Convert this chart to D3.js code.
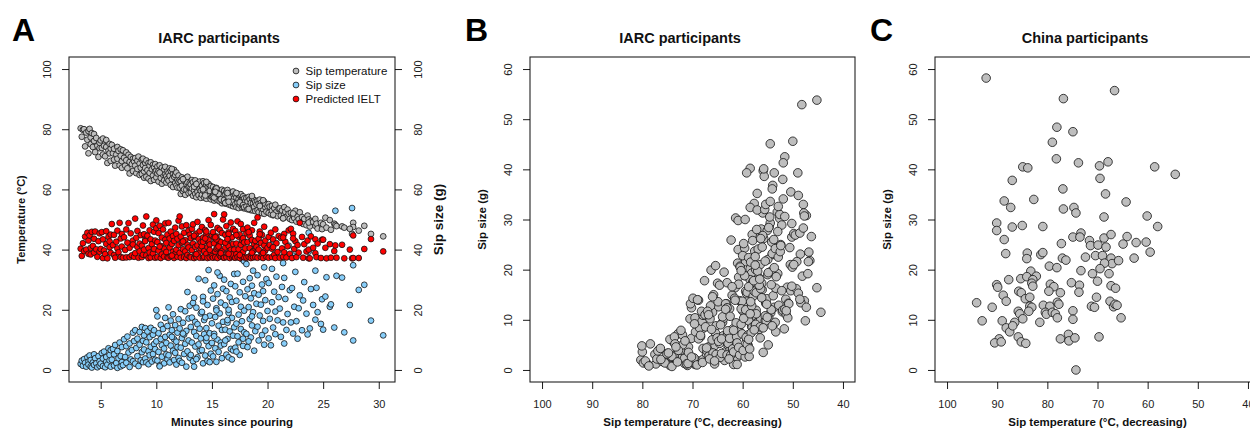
<!DOCTYPE html>
<html>
<head>
<meta charset="utf-8">
<script src="https://cdnjs.cloudflare.com/ajax/libs/d3/7.8.5/d3.min.js"></script>
<style>
body { margin: 0; background: #fff; }
svg { display: block; font-family: "Liberation Sans", Arial, Helvetica, sans-serif; }
</style>
</head>
<body>
<svg></svg>
<script>
// IARC participants: one entry per sip (minutes since pouring, sip temperature, sip size, predicted IELT)
var iarcMinutes = [
    3.2, 3.3, 3.4, 3.5, 3.6, 3.7, 3.8, 3.9, 3.9,
    4.0, 4.1, 4.1, 4.2, 4.3, 4.4, 4.4, 4.5, 4.6, 4.7, 4.8, 4.9, 4.9,
    5.0, 5.1, 5.2, 5.2, 5.3, 5.4, 5.5, 5.5, 5.6, 5.7, 5.8, 5.8, 5.9, 5.9,
    6.0, 6.1, 6.2, 6.2, 6.3, 6.4, 6.5, 6.5, 6.6, 6.7, 6.8, 6.8, 6.9, 6.9,
    7.0, 7.1, 7.2, 7.3, 7.3, 7.4, 7.5, 7.6, 7.6, 7.7, 7.8, 7.9, 7.9, 8.0,
    8.1, 8.1, 8.2, 8.3, 8.3, 8.4, 8.5, 8.5, 8.6, 8.7, 8.7, 8.8, 8.8, 8.9, 8.9, 9.0,
    9.0, 9.1, 9.1, 9.2, 9.3, 9.3, 9.4, 9.4, 9.5, 9.5, 9.6, 9.7, 9.7, 9.8, 9.8, 9.9, 9.9, 10.0,
    10.0, 10.1, 10.1, 10.2, 10.2, 10.3, 10.4, 10.4, 10.5, 10.5, 10.6, 10.7, 10.7, 10.8, 10.8, 10.9, 10.9, 11.0, 11.0, 10.3,
    11.1, 11.1, 11.2, 11.2, 11.3, 11.3, 11.4, 11.5, 11.5, 11.6, 11.6, 11.7, 11.7, 11.8, 11.8, 11.9, 11.9, 12.0, 12.0, 11.4,
    12.1, 12.1, 12.2, 12.2, 12.3, 12.3, 12.4, 12.5, 12.5, 12.6, 12.6, 12.7, 12.7, 12.8, 12.8, 12.9, 12.9, 13.0, 13.0, 12.4,
    13.1, 13.1, 13.2, 13.2, 13.3, 13.3, 13.4, 13.4, 13.5, 13.5, 13.6, 13.6, 13.7, 13.7, 13.8, 13.8, 13.9, 13.9, 14.0, 14.0, 13.4, 13.6,
    14.1, 14.1, 14.2, 14.2, 14.3, 14.3, 14.4, 14.4, 14.5, 14.5, 14.6, 14.6, 14.7, 14.7, 14.8, 14.8, 14.9, 14.9, 15.0, 15.0, 14.2, 14.5, 14.8, 14.4,
    15.1, 15.1, 15.2, 15.2, 15.3, 15.3, 15.4, 15.4, 15.5, 15.5, 15.6, 15.6, 15.7, 15.7, 15.8, 15.8, 15.9, 15.9, 16.0, 16.0, 15.2, 15.5, 15.8, 15.4, 15.6, 15.3,
    16.1, 16.1, 16.2, 16.2, 16.3, 16.3, 16.4, 16.4, 16.5, 16.5, 16.6, 16.6, 16.7, 16.7, 16.8, 16.8, 16.9, 16.9, 17.0, 17.0, 16.2, 16.5, 16.8, 16.4, 16.5,
    17.1, 17.1, 17.2, 17.2, 17.3, 17.3, 17.4, 17.4, 17.5, 17.5, 17.6, 17.6, 17.7, 17.7, 17.8, 17.8, 17.9, 17.9, 18.0, 17.2, 17.5, 17.8, 17.9,
    18.1, 18.1, 18.2, 18.2, 18.3, 18.4, 18.4, 18.5, 18.5, 18.6, 18.6, 18.7, 18.7, 18.8, 18.8, 18.9, 18.9, 19.0, 18.3, 18.6,
    19.1, 19.1, 19.2, 19.2, 19.3, 19.4, 19.4, 19.5, 19.5, 19.6, 19.7, 19.7, 19.8, 19.8, 19.9, 20.0, 19.3, 19.6,
    20.1, 20.1, 20.2, 20.3, 20.4, 20.4, 20.5, 20.6, 20.7, 20.7, 20.8, 20.9, 21.0, 20.5,
    21.1, 21.2, 21.3, 21.4, 21.5, 21.5, 21.6, 21.7, 21.8, 21.9, 22.0, 21.4,
    22.1, 22.2, 22.3, 22.4, 22.5, 22.6, 22.7, 22.8, 22.9, 22.3,
    23.1, 23.2, 23.3, 23.5, 23.6, 23.7, 23.8, 23.9, 23.7,
    24.1, 24.3, 24.3, 24.4, 24.5, 24.8, 24.9,
    25.0, 25.2, 25.3, 25.6, 25.7, 26.0,
    26.1, 26.2, 26.7, 26.9,
    27.6, 27.7, 27.7, 27.4,
    28.7, 29.3, 30.4, 28.2
];
var iarcTemp = [
    80.3, 77.5, 79.8, 80.0, 74.3, 78.9, 76.5, 72.0, 79.4,
    80.1, 77.3, 75.0, 78.7, 74.1, 78.4, 76.1, 72.4, 77.1, 74.5, 70.8, 73.7, 75.5,
    76.3, 73.8, 71.6, 76.9, 74.5, 71.0, 74.1, 76.4, 68.8, 72.9, 75.1, 72.0, 69.5, 73.6,
    74.8, 72.0, 69.9, 73.5, 67.9, 71.6, 74.1, 70.2, 72.8, 68.0, 71.2, 73.3, 69.4, 67.2,
    73.0, 70.5, 67.9, 72.3, 69.7, 67.0, 71.5, 69.1, 65.3, 70.8, 68.4, 70.2, 66.1, 69.3,
    70.4, 67.9, 65.4, 69.5, 66.8, 70.9, 64.8, 68.6, 67.2, 69.9, 65.1, 68.1, 70.2, 66.0, 63.9, 68.8,
    67.1, 69.6, 64.2, 66.4, 68.8, 63.6, 67.9, 65.5, 69.0, 62.8, 66.7, 68.2, 64.6, 67.4, 63.2, 65.9, 68.4, 66.3,
    64.0, 67.6, 65.3, 62.6, 66.1, 68.0, 63.8, 65.8, 67.2, 61.9, 64.9, 66.6, 63.0, 65.0, 67.5, 62.3, 64.4, 66.0, 63.5, 65.6,
    65.4, 62.9, 67.0, 64.5, 61.5, 66.2, 63.4, 65.1, 60.8, 64.2, 66.5, 62.1, 64.8, 61.3, 65.6, 63.1, 60.6, 64.6, 62.5, 66.8,
    63.1, 60.6, 62.7, 58.5, 64.0, 61.2, 59.4, 62.9, 60.0, 63.7, 58.2, 61.8, 59.9, 62.3, 64.2, 60.8, 58.8, 62.0, 61.0, 63.4,
    61.6, 59.0, 63.1, 60.3, 57.9, 62.4, 59.6, 61.1, 58.5, 63.0, 60.5, 57.4, 62.0, 59.2, 61.4, 58.1, 60.1, 62.6, 59.5, 57.2, 60.9, 61.8,
    61.2, 58.2, 62.7, 59.6, 57.3, 62.1, 58.9, 60.9, 56.9, 61.5, 59.4, 60.6, 57.7, 61.8, 58.5, 60.3, 56.7, 61.1, 59.1, 57.5, 60.0, 62.5, 59.5, 58.0,
    60.8, 57.6, 59.4, 56.3, 60.1, 57.0, 58.7, 60.5, 56.4, 59.8, 57.9, 59.2, 56.0, 59.6, 57.4, 58.8, 55.4, 59.9, 58.1, 56.1, 57.3, 58.5, 56.7, 60.3, 58.5, 59.2,
    59.5, 56.5, 58.4, 55.3, 59.1, 55.8, 57.7, 59.8, 55.0, 58.6, 56.9, 58.2, 54.7, 58.9, 56.2, 57.5, 54.4, 59.3, 57.1, 55.2, 55.5, 57.4, 55.9, 58.8, 55.9,
    58.3, 55.1, 57.3, 54.1, 58.5, 55.6, 56.8, 53.8, 58.0, 54.9, 56.5, 58.4, 54.0, 56.4, 57.7, 54.5, 57.0, 53.7, 56.1, 58.8, 55.7, 54.8, 54.1,
    57.1, 54.3, 56.0, 53.4, 57.5, 54.6, 56.7, 53.1, 55.5, 57.2, 53.9, 55.4, 53.0, 56.5, 54.2, 55.8, 52.8, 55.0, 53.5, 57.8,
    56.2, 53.1, 55.3, 52.4, 56.6, 53.7, 55.5, 52.1, 54.8, 53.4, 55.9, 51.9, 54.1, 55.2, 52.6, 54.4, 54.5, 56.4,
    55.1, 52.2, 54.3, 51.7, 54.5, 52.9, 51.4, 53.8, 52.0, 54.9, 52.6, 51.1, 53.5, 51.6,
    53.7, 51.3, 53.0, 50.4, 54.1, 51.6, 52.5, 50.9, 53.3, 51.9, 50.2, 50.4,
    52.2, 49.8, 51.6, 50.5, 52.9, 49.3, 51.0, 50.1, 52.4, 52.0,
    50.8, 48.5, 50.2, 48.1, 51.3, 50.0, 47.7, 49.5, 49.0,
    49.2, 47.9, 50.2, 48.6, 47.0, 48.9, 46.8,
    48.4, 50.6, 47.3, 49.8, 46.6, 48.6,
    48.2, 47.8, 47.7, 47.3,
    45.2, 48.9, 47.5, 46.9,
    47.9, 45.2, 44.4, 46.3
];
var iarcSip = [
    2.0, 3.1, 1.4, 3.6, 2.4, 1.1, 4.2, 2.8, 1.8,
    4.8, 1.2, 3.3, 0.8, 2.5, 5.2, 1.7, 3.9, 2.2, 0.9, 4.6, 2.9, 1.4,
    2.1, 5.6, 1.3, 3.8, 6.1, 0.9, 2.7, 4.3, 1.8, 7.2, 3.2, 5.0, 1.1, 6.6,
    3.4, 7.0, 1.5, 5.2, 8.3, 2.3, 0.7, 6.3, 3.9, 9.1, 1.2, 4.6, 7.6, 2.6,
    1.6, 10.2, 4.3, 7.9, 2.4, 11.1, 5.8, 1.0, 8.8, 3.5, 6.6, 12.4, 2.9, 9.6,
    13.2, 2.1, 7.3, 10.4, 4.6, 1.3, 12.6, 8.4, 3.2, 14.3, 5.9, 9.7, 2.6, 11.5, 6.8, 13.9,
    3.8, 9.2, 2.5, 12.8, 6.2, 1.9, 10.9, 4.9, 14.0, 7.7, 2.8, 11.7, 5.3, 8.6, 13.2, 3.4, 6.9, 19.9,
    9.5, 17.8, 3.1, 12.2, 6.0, 1.5, 10.3, 15.0, 4.4, 8.2, 13.6, 2.2, 7.1, 17.3, 11.0, 5.2, 9.0, 14.6, 3.6, 1.2,
    20.8, 4.9, 11.7, 2.5, 16.4, 8.1, 13.2, 6.4, 18.5, 3.3, 10.2, 14.9, 5.7, 9.4, 1.8, 12.4, 7.6, 16.9, 4.0, 11.0,
    3.0, 13.8, 7.4, 20.2, 10.6, 2.4, 15.7, 5.3, 11.8, 19.5, 8.7, 1.1, 13.0, 25.9, 6.2, 17.1, 9.8, 4.1, 21.3, 12.1,
    14.3, 5.0, 17.4, 9.1, 22.3, 2.9, 12.6, 1.1, 16.0, 7.8, 20.7, 11.3, 4.2, 15.2, 30.3, 8.5, 13.7, 6.3, 18.8, 10.5, 24.0, 3.6,
    6.6, 19.3, 2.2, 24.3, 11.9, 16.6, 4.8, 29.8, 9.6, 13.9, 21.6, 3.0, 33.2, 7.9, 18.0, 12.2, 26.4, 5.4, 15.5, 9.0, 22.8, 10.7, 2.6, 17.5,
    4.5, 23.7, 12.0, 28.1, 7.2, 17.6, 2.7, 20.5, 10.1, 25.2, 14.7, 6.0, 31.3, 18.8, 9.1, 22.4, 13.3, 3.9, 27.0, 16.0, 11.2, 32.4, 8.1, 19.8, 40.2, 39.3,
    30.0, 8.6, 21.5, 13.4, 5.1, 26.2, 15.7, 10.3, 19.0, 4.2, 24.1, 12.8, 28.6, 7.0, 17.3, 22.6, 11.4, 6.5, 31.9, 14.2, 9.8, 20.0, 3.5, 16.6, 39.7,
    7.4, 27.8, 15.4, 23.0, 11.2, 32.0, 18.4, 9.2, 25.8, 5.0, 21.0, 13.6, 36.8, 16.2, 8.0, 29.3, 19.7, 12.5, 24.5, 6.1, 38.6, 10.4, 36.1,
    35.2, 12.0, 26.8, 7.6, 20.9, 30.5, 16.9, 23.8, 10.8, 28.0, 14.8, 33.0, 19.2, 6.4, 25.5, 40.1, 12.9, 22.0, 9.5, 17.8,
    14.4, 31.5, 9.8, 25.0, 18.1, 39.3, 21.7, 11.6, 28.4, 16.3, 8.4, 34.1, 23.2, 13.1, 30.2, 19.6, 45.1, 26.2,
    10.5, 28.9, 17.0, 8.2, 33.6, 22.5, 14.1, 26.0, 11.9, 19.4, 31.0, 16.5, 24.2, 42.5,
    20.4, 11.0, 27.6, 15.8, 8.8, 30.6, 23.6, 13.3, 18.6, 41.3, 26.5, 35.5,
    15.8, 27.2, 12.1, 21.0, 32.6, 16.2, 10.4, 20.5, 24.8, 38.0,
    13.2, 23.1, 29.2, 18.7, 11.8, 45.6, 13.8, 26.9, 39.3,
    21.6, 33.0, 16.7, 27.3, 19.2, 15.3, 23.5,
    13.4, 24.4, 30.8, 21.0, 21.8, 14.1,
    52.9, 31.3, 30.7, 12.5,
    53.8, 34.8, 9.8, 21.6,
    28.3, 16.4, 11.5, 26.6
];
var iarcIelt = [
    40.3, 37.9, 42.1, 39.5, 44.3, 40.0, 45.6, 38.6, 43.0,
    44.7, 40.6, 38.4, 45.9, 41.2, 39.0, 43.6, 46.0, 40.1, 37.6, 42.8, 45.4, 39.3,
    40.2, 45.8, 37.2, 43.4, 39.7, 38.5, 46.1, 41.9, 37.1, 44.2, 40.8, 42.7, 38.9, 45.0,
    48.5, 41.5, 38.2, 44.9, 37.3, 42.6, 46.3, 40.4, 39.1, 48.9, 43.7, 37.5, 41.0, 45.2,
    37.3, 44.1, 39.9, 46.7, 37.4, 42.3, 48.8, 40.6, 37.5, 45.4, 38.1, 43.0, 41.7, 37.6,
    50.3, 38.8, 43.9, 40.9, 46.2, 37.3, 42.0, 39.4, 44.8, 37.5, 41.3, 48.0, 38.3, 45.1, 40.0, 43.2,
    42.8, 38.1, 51.0, 44.6, 37.2, 40.5, 46.4, 39.0, 43.4, 37.4, 41.8, 48.3, 38.7, 45.9, 40.2, 37.3, 43.0, 47.1,
    49.7, 37.5, 42.5, 45.5, 39.6, 47.9, 37.2, 41.2, 44.0, 38.4, 46.7, 40.3, 37.7, 43.3, 48.7, 39.2, 42.2, 37.4, 45.0, 41.0,
    48.9, 37.3, 43.7, 40.7, 46.0, 37.8, 41.9, 44.5, 39.3, 37.2, 42.9, 47.3, 38.6, 45.2, 40.0, 37.6, 43.6, 41.5, 49.6, 38.0,
    51.0, 38.9, 44.3, 37.3, 42.3, 47.7, 40.1, 37.5, 45.6, 39.4, 43.1, 37.2, 48.1, 41.6, 38.2, 46.3, 40.7, 44.9, 37.6, 42.7,
    43.8, 37.4, 46.9, 39.8, 42.0, 48.4, 37.2, 44.2, 40.9, 38.3, 45.3, 37.5, 41.4, 49.2, 43.5, 39.0, 37.3, 46.1, 42.4, 40.4, 44.6, 38.5,
    41.1, 47.5, 37.3, 44.0, 39.5, 37.6, 42.8, 46.5, 38.6, 45.1, 37.2, 40.8, 49.8, 43.2, 37.4, 41.7, 48.2, 38.9, 44.7, 37.8, 42.6, 46.0, 39.9, 43.7,
    37.3, 45.8, 42.1, 51.8, 39.3, 37.5, 44.4, 40.2, 47.2, 37.2, 43.0, 41.3, 38.1, 46.6, 37.6, 42.5, 45.5, 39.6, 37.4, 50.0, 44.0, 40.6, 38.8, 43.4, 41.0, 44.1,
    51.7, 37.3, 44.9, 40.7, 47.8, 37.5, 42.9, 38.7, 45.7, 41.2, 37.2, 43.9, 49.0, 39.9, 37.6, 44.1, 41.9, 46.9, 37.4, 40.0, 42.3, 45.2, 38.4, 43.5, 38.6,
    37.3, 46.2, 42.0, 38.5, 49.4, 37.5, 44.3, 40.1, 37.2, 45.0, 41.6, 48.5, 37.7, 43.1, 39.2, 46.8, 37.4, 42.7, 40.4, 44.8, 38.2, 43.8, 42.4,
    45.4, 37.3, 42.5, 47.3, 37.6, 40.5, 44.6, 38.0, 37.2, 43.2, 46.4, 39.5, 37.4, 41.8, 48.9, 42.9, 37.5, 40.9, 45.8, 39.0,
    50.7, 37.3, 43.6, 40.0, 46.0, 37.5, 42.2, 44.9, 38.4, 37.2, 41.4, 47.6, 39.7, 43.0, 37.6, 40.6, 45.1, 38.9,
    44.2, 37.3, 41.5, 45.6, 37.5, 40.3, 43.4, 38.3, 46.7, 37.2, 42.1, 39.2, 44.5, 40.8,
    37.3, 43.9, 40.4, 37.6, 45.2, 39.1, 42.6, 37.4, 41.1, 46.4, 38.6, 44.0,
    46.9, 37.2, 45.3, 40.2, 42.8, 37.5, 41.5, 39.0, 48.9, 43.7,
    44.2, 37.3, 41.8, 39.4, 43.0, 37.1, 37.1, 44.4, 40.0,
    40.6, 43.4, 38.8, 37.5, 42.0, 37.2, 43.3,
    43.3, 40.6, 37.1, 41.8, 37.3, 39.5,
    41.4, 37.3, 41.6, 37.1,
    37.1, 44.7, 37.2, 40.0,
    40.2, 43.5, 39.4, 37.2
];

// China participants: sip temperature and sip size
var chinaTemp = [
    92.2, 76.8, 66.6, 78.1, 74.9, 79.0, 78.2, 73.8, 69.6, 67.9, 84.9, 83.9, 58.6, 54.5, 87.0, 69.5,
    76.9, 68.4, 88.6, 82.7, 64.3, 87.3, 74.7, 76.8, 74.3, 68.7, 60.1, 90.1, 90.1, 87.0, 85.0, 80.9,
    58.0, 88.6, 74.9, 73.3, 73.5, 71.6, 71.4, 69.9, 68.7, 68.3, 67.3, 64.1, 64.9, 62.3, 60.3, 59.5,
    77.2, 88.3, 84.0, 84.1, 81.3, 80.9, 77.0, 76.3, 72.4, 70.4, 69.0, 67.3, 67.1, 65.8, 62.7, 68.6,
    69.5, 79.6, 78.1, 83.3, 73.3, 71.0, 67.7, 87.7, 85.3, 84.1, 82.2, 82.9, 83.1, 82.9, 90.1, 89.9,
    79.4, 78.7, 75.2, 73.6, 70.0, 67.3, 66.4, 79.7, 77.4, 73.7, 85.7, 85.2, 84.4, 83.5, 88.8, 88.2,
    94.1, 91.0, 83.5, 83.1, 80.8, 79.5, 78.0, 77.7, 70.2, 71.2, 70.6, 67.5, 66.8, 66.5, 66.1, 85.8,
    85.5, 83.7, 80.4, 80.2, 79.0, 78.4, 74.9, 93.0, 89.0, 86.5, 84.9, 81.5, 78.0, 74.9, 65.3, 88.2,
    87.5, 86.9, 85.8, 89.6, 90.5, 89.2, 85.2, 84.3, 77.4, 75.8, 75.7, 74.5, 69.7, 74.3
];
var chinaSip = [
    58.2, 54.1, 55.7, 48.4, 47.5, 45.4, 42.1, 41.3, 40.7, 41.5, 40.5, 40.3, 40.5, 39.0, 37.8, 38.2,
    36.1, 35.1, 33.7, 34.0, 33.5, 32.4, 32.4, 32.1, 31.3, 30.5, 30.7, 29.3, 27.8, 28.5, 28.8, 28.6,
    28.6, 26.0, 26.5, 27.3, 26.5, 25.8, 24.8, 24.9, 26.3, 24.5, 27.0, 26.6, 25.1, 25.4, 25.5, 23.5,
    25.2, 23.2, 23.3, 22.2, 23.0, 23.4, 22.3, 21.9, 22.5, 22.8, 22.8, 22.3, 21.2, 21.8, 22.3, 21.3,
    20.2, 20.7, 20.4, 19.7, 19.8, 19.2, 19.2, 18.0, 18.2, 18.6, 18.7, 18.0, 17.3, 16.7, 17.0, 16.5,
    17.1, 16.6, 17.4, 16.9, 17.7, 16.8, 16.3, 15.7, 15.4, 15.5, 15.7, 15.4, 14.2, 14.5, 14.9, 13.7,
    13.4, 12.5, 12.7, 12.5, 12.9, 12.7, 13.5, 13.1, 14.5, 12.7, 12.5, 13.7, 12.6, 13.1, 12.9, 11.7,
    11.2, 11.7, 11.5, 11.1, 11.5, 11.2, 11.8, 9.8, 9.8, 9.5, 10.2, 9.5, 10.4, 10.1, 10.4, 8.4,
    7.6, 8.8, 6.6, 6.2, 5.4, 5.6, 5.6, 5.3, 6.2, 7.1, 5.8, 6.4, 6.6, 0.0
];

var minuteTicks = [5, 10, 15, 20, 25, 30];
var hundredTicks = [0, 20, 40, 60, 80, 100];
var tempTicks = [100, 90, 80, 70, 60, 50, 40];
var sipTicks = [0, 10, 20, 30, 40, 50, 60];
var seriesNames = ['Sip temperature', 'Sip size', 'Predicted IELT'];
var seriesColors = ['#bebebe', '#87cefa', '#ff0000'];

var width = 1250;
var height = 431;
var boxTop = 57;
var boxBottom = 382;

var svg = d3.select('svg')
    .attr('width', width)
    .attr('height', height);

var iarc = iarcMinutes.map(function(m, i) {
    return { minute: m, temp: iarcTemp[i], sip: iarcSip[i], ielt: iarcIelt[i] };
}).filter(d => d.temp != null && d.sip != null && d.ielt != null);

var china = chinaTemp.map((t, i) => ({ temp: t, sip: chinaSip[i] }))
    .filter(d => d.sip != null);

function styleAxis(g, rotate, offset, size) {
    g.attr('font-family', null).attr('font-size', null);
    g.select('.domain').remove();
    g.selectAll('.tick line').attr('stroke', '#000').attr('stroke-width', 0.9);
    var txt = g.selectAll('.tick text')
        .attr('fill', '#222')
        .style('font-size', (size || 11) + 'px');
    if (rotate) {
        txt.attr('x', 0).attr('y', offset).attr('dy', null)
            .attr('transform', 'rotate(-90)')
            .attr('text-anchor', 'middle');
    } else {
        txt.attr('y', offset).attr('dy', null);
    }
}

function drawBox(left, right) {
    svg.append('rect')
        .attr('x', left)
        .attr('y', boxTop)
        .attr('width', right - left)
        .attr('height', boxBottom - boxTop)
        .attr('fill', 'none')
        .attr('stroke', '#222')
        .attr('stroke-width', 1.1);
}

function panelText(x, y, txt, size, bold, rotate) {
    var t = svg.append('text')
        .attr('text-anchor', 'middle')
        .style('font-size', size + 'px')
        .style('font-weight', bold ? 'bold' : 'normal')
        .attr('fill', '#111')
        .text(txt);
    if (rotate) t.attr('transform', 'translate(' + x + ',' + y + ') rotate(-90)');
    else t.attr('x', x).attr('y', y);
    return t;
}

function letter(x, txt) {
    svg.append('text')
        .attr('x', x)
        .attr('y', 41)
        .style('font-size', '32px')
        .style('font-weight', 'bold')
        .attr('fill', '#000')
        .text(txt);
}

function dots(data, x, y, r, fill) {
    svg.append('g')
        .selectAll('circle')
        .data(data)
        .enter()
        .append('circle')
            .attr('cx', x)
            .attr('cy', y)
            .attr('r', r)
            .attr('fill', fill)
            .attr('stroke', '#111')
            .attr('stroke-width', 0.8);
}

// ---- panel A ----
var xA = d3.scaleLinear().domain([2.15, 31.46]).range([69, 395]);
var yA = d3.scaleLinear().domain([-4, 104]).range([boxBottom, boxTop]);

dots(iarc, d => xA(d.minute), d => yA(d.temp), 2.9, seriesColors[0]);
dots(iarc, d => xA(d.minute), d => yA(d.sip), 2.9, seriesColors[1]);
dots(iarc, d => xA(d.minute), d => yA(d.ielt), 2.9, seriesColors[2]);
drawBox(69, 395);

svg.append('g')
    .attr('transform', 'translate(0,' + boxBottom + ')')
    .call(d3.axisBottom(xA).tickValues(minuteTicks).tickSize(7).tickSizeOuter(0))
    .call(styleAxis, false, 26);
svg.append('g')
    .attr('transform', 'translate(69,0)')
    .call(d3.axisLeft(yA).tickValues(hundredTicks).tickSize(7).tickSizeOuter(0))
    .call(styleAxis, true, -18);
svg.append('g')
    .attr('transform', 'translate(395,0)')
    .call(d3.axisRight(yA).tickValues(hundredTicks).tickSize(7).tickSizeOuter(0))
    .call(styleAxis, true, 26.5);

var legend = svg.append('g')
    .selectAll('g')
    .data(seriesNames)
    .enter()
    .append('g')
        .attr('transform', (d, i) => 'translate(296,' + (71 + i * 14) + ')');
legend.append('circle')
    .attr('r', 2.9)
    .attr('fill', (d, i) => seriesColors[i])
    .attr('stroke', '#111')
    .attr('stroke-width', 0.8);
legend.append('text')
    .attr('x', 9.5)
    .attr('dy', '0.35em')
    .style('font-size', '11.5px')
    .attr('fill', '#111')
    .text(d => d);

letter(12, 'A');
panelText(219, 42.5, 'IARC participants', 14.5, true);
panelText(232, 426, 'Minutes since pouring', 11.5, true);
panelText(25, 219.5, 'Temperature (°C)', 11, true, true);
panelText(443, 219.5, 'Sip size (g)', 13.5, true, true);

// ---- panels B and C ----
var ySip = d3.scaleLinear().domain([-2.4, 62.4]).range([boxBottom, boxTop]);

function tempPanel(data, left, right, name, title, titleX) {
    var x = d3.scaleLinear().domain([102.4, 37.6]).range([left, right]);
    dots(data, d => x(d.temp), d => ySip(d.sip), 4.3, '#bebebe');
    drawBox(left, right);
    svg.append('g')
        .attr('transform', 'translate(0,' + boxBottom + ')')
        .call(d3.axisBottom(x).tickValues(tempTicks).tickSize(7).tickSizeOuter(0))
        .call(styleAxis, false, 26);
    svg.append('g')
        .attr('transform', 'translate(' + left + ',0)')
        .call(d3.axisLeft(ySip).tickValues(sipTicks).tickSize(7).tickSizeOuter(0))
        .call(styleAxis, true, -18);
    letter(left - 65, name);
    panelText(titleX, 42.5, title, 14.5, true);
    panelText((left + right) / 2, 426, 'Sip temperature (°C, decreasing)', 11.5, true);
    panelText(left - 44, 219.5, 'Sip size (g)', 11.5, true, true);
}

tempPanel(iarc, 530, 855, 'B', 'IARC participants', 680);
tempPanel(china, 935, 1260, 'C', 'China participants', 1085);
</script>
</body>
</html>
